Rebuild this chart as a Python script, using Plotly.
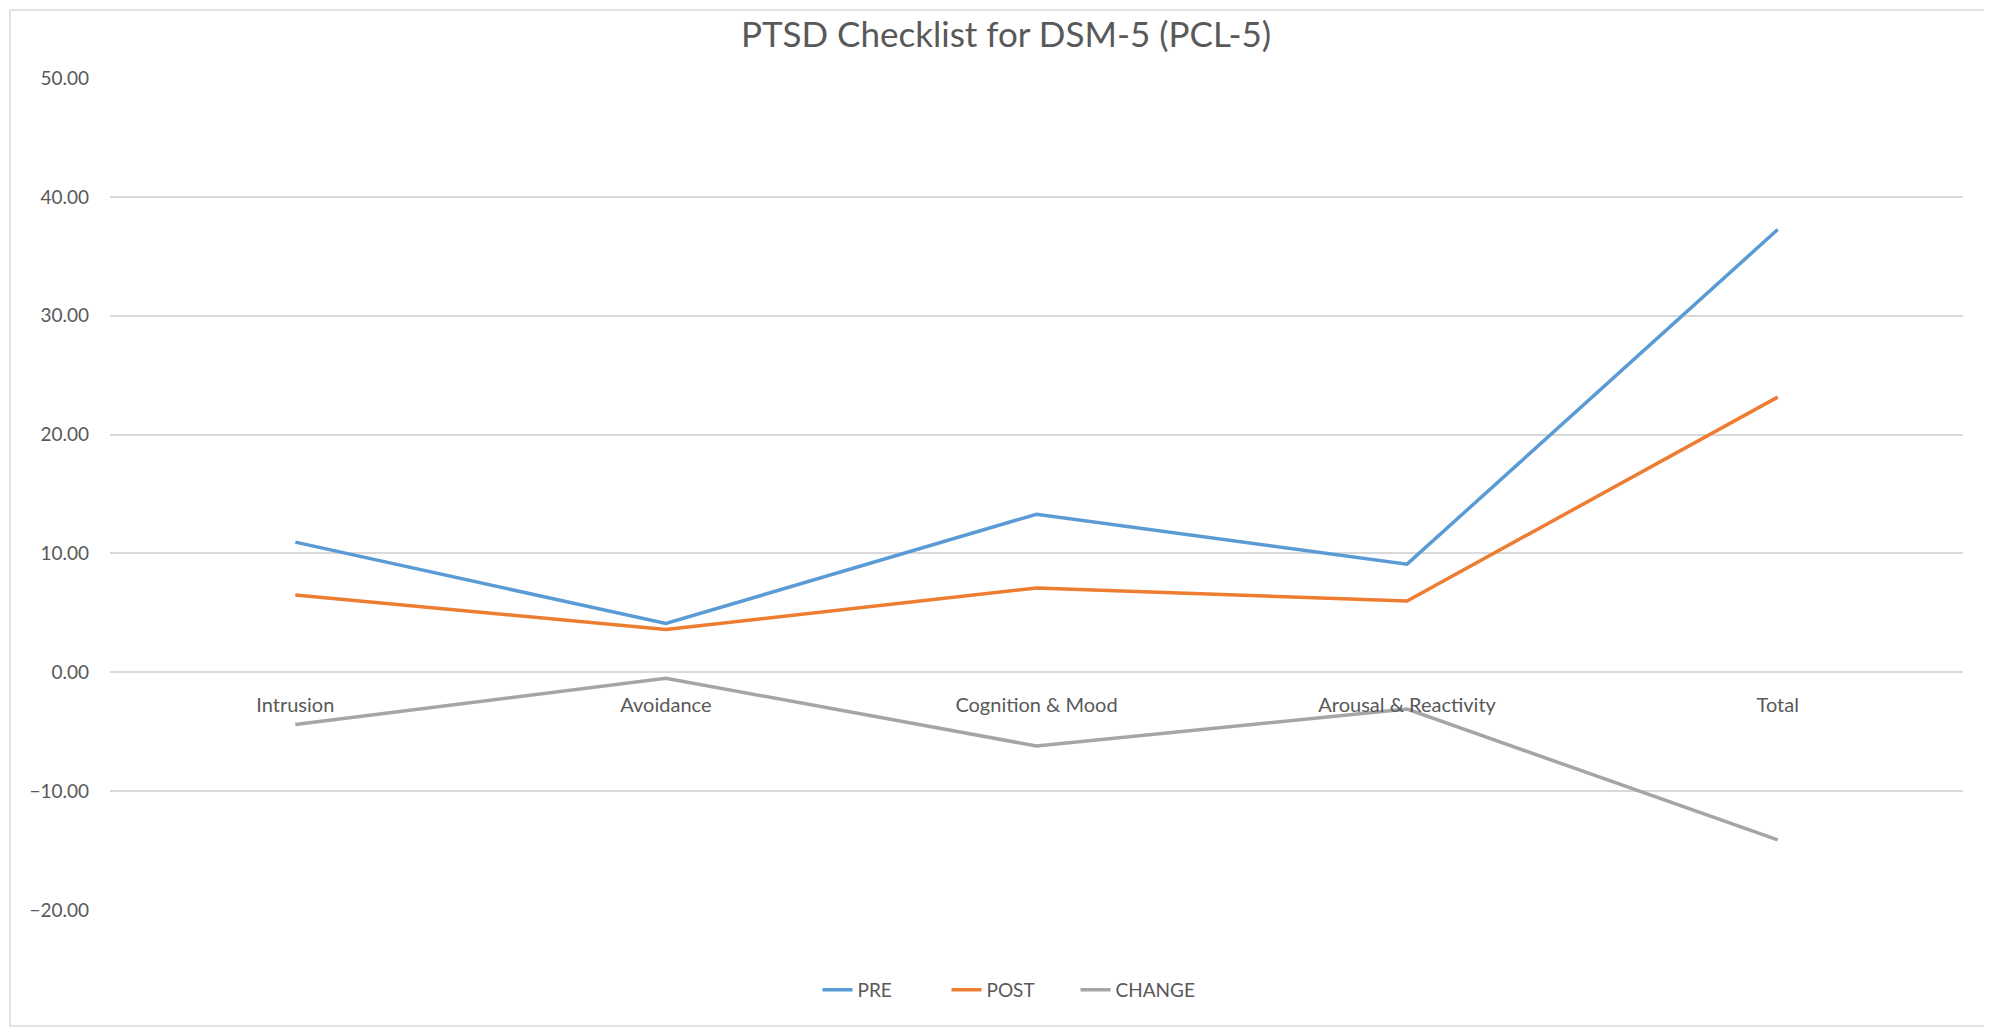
import plotly.graph_objects as go

# Data
categories = ["Intrusion", "Avoidance", "Cognition &amp; Mood", "Arousal &amp; Reactivity", "Total"]
pre = [10.95, 4.10, 13.30, 9.10, 37.25]
post = [6.50, 3.60, 7.10, 6.00, 23.15]
change = [-4.40, -0.50, -6.20, -3.10, -14.10]
y_ticks = [-20, -10, 0, 10, 20, 30, 40, 50]

Y_MIN, Y_MAX = -20, 50
FONT = "Lato, 'Open Sans', sans-serif"
TEXT = "#595959"

# the page body keeps its default 8px margin, so the figure is drawn 8px in
OFF = 8
W, H = 1992 - OFF, 1030 - OFF
M_L, M_R, M_T, M_B = 110 - OFF, 29, 78 - OFF, 120
pw = W - M_L - M_R
ph = H - M_T - M_B


def px_x(x):
    # page pixel -> paper fraction
    return (x - OFF - M_L) / pw


def px_y(y):
    return (H - M_B - (y - OFF)) / ph


fig = go.Figure()
for name, vals, color in [
    ("PRE", pre, "#5B9BD5"),
    ("POST", post, "#ED7D31"),
    ("CHANGE", change, "#A5A5A5"),
]:
    fig.add_trace(go.Scatter(
        x=categories,
        y=vals,
        mode="lines",
        name=name,
        line=dict(color=color, width=3.5),
        hovertemplate=f"{name}<br>%{{x}}: %{{y:.2f}}<extra></extra>",
    ))

# chart border like the spreadsheet frame
fig.add_shape(
    type="rect", xref="paper", yref="paper",
    x0=px_x(10), x1=px_x(1987),
    y0=px_y(1026), y1=px_y(10),
    line=dict(color="#E3E3E3", width=2),
    layer="below",
)

fig.update_layout(
    width=W,
    height=H,
    margin=dict(l=M_L, r=M_R, t=M_T, b=M_B),
    paper_bgcolor="white",
    plot_bgcolor="white",
    font=dict(family=FONT, color=TEXT, size=20),
    title=dict(
        text="PTSD Checklist for DSM-5 (PCL-5)",
        x=px_x(1006), xanchor="center", xref="paper",
        y=(H - (35 - OFF)) / H, yanchor="middle",
        font=dict(size=35, color=TEXT, family=FONT),
    ),
    xaxis=dict(
        type="category",
        range=[-0.5, len(categories) - 0.5],
        anchor="free",
        position=(0 - Y_MIN) / (Y_MAX - Y_MIN),
        showgrid=False,
        showline=False,
        zeroline=False,
        ticks="",
        tickfont=dict(size=20, color=TEXT),
        ticklabelstandoff=19,
    ),
    yaxis=dict(
        range=[Y_MIN, Y_MAX],
        tickvals=y_ticks,
        tickformat=".2f",
        showgrid=True,
        gridcolor="#D9D9D9",
        gridwidth=1.5,
        zeroline=False,
        showline=False,
        ticks="",
        tickfont=dict(size=19, color=TEXT),
        ticklabelstandoff=20,
    ),
    legend=dict(
        orientation="h",
        x=px_x(1011), xanchor="center",
        y=px_y(990), yanchor="middle",
        font=dict(size=19, color=TEXT),
        itemwidth=30,
        entrywidth=84,
    ),
    showlegend=True,
)

fig.write_html("out.html")
